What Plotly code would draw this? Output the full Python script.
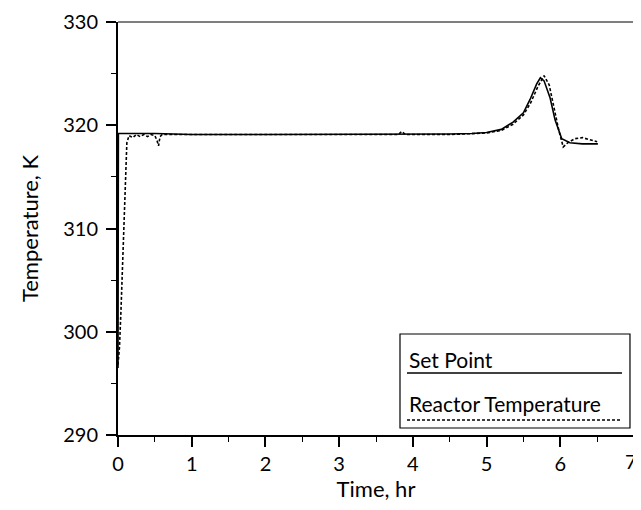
import plotly.graph_objects as go

# Set point (solid)
sp_t = [0, 0.005, 0.5, 1, 2, 3, 4, 4.5, 4.8, 5.0, 5.2, 5.36, 5.5, 5.59, 5.68, 5.73, 5.78,
        5.86, 5.93, 6.02, 6.13, 6.3, 6.51]
sp_T = [296.5, 319.2, 319.2, 319.1, 319.1, 319.1, 319.1, 319.15, 319.2, 319.3, 319.6, 320.3,
        321.2, 322.5, 324.0, 324.6, 324.3, 322.7, 320.5, 318.7, 318.3, 318.2, 318.2]

# Reactor temperature (dashed)
rt_t = [0, 0.02, 0.04, 0.06, 0.08, 0.1, 0.12, 0.15, 0.2, 0.25, 0.3, 0.35, 0.4, 0.45, 0.5,
        0.53, 0.55, 0.57, 0.6, 0.8, 1, 2, 3, 3.8, 3.85, 3.9, 4.5, 4.8, 5.0, 5.2, 5.36, 5.5,
        5.6, 5.7, 5.78, 5.85, 5.92, 5.98, 6.04, 6.1, 6.2, 6.3, 6.4, 6.5]
rt_T = [296.8, 298.5, 302, 306, 311, 315.8, 318.3, 319.0, 318.8, 319.1, 318.9, 319.1, 318.9,
        319.1, 319.0, 318.5, 318.0, 318.9, 319.1, 319.1, 319.1, 319.1, 319.1, 319.1, 319.4,
        319.1, 319.1, 319.15, 319.25, 319.5, 320.1, 321.0, 322.2, 323.8, 324.8, 323.9, 321.5,
        319.5, 317.9, 318.3, 318.7, 318.8, 318.6, 318.4]

x_ticks = [0, 1, 2, 3, 4, 5, 6, 7]
x_ticktext = ["0", "1", "2", "3", "4", "5", "6", ""]   # "7" drawn as annotation at the edge
legend_labels = ["Set Point", "Reactor Temperature"]
x_label = "Time, hr"
y_label = "Temperature, K"

FONT = "Lato"

fig = go.Figure()
fig.add_trace(go.Scatter(x=sp_t, y=sp_T, mode="lines", name=legend_labels[0],
                         line=dict(color="black", width=1.6), showlegend=False))
fig.add_trace(go.Scatter(x=rt_t, y=rt_T, mode="lines", name=legend_labels[1],
                         line=dict(color="black", width=1.6, dash="3px,2px"), showlegend=False))

axis_common = dict(showgrid=False, zeroline=False, showline=True, linecolor="black",
                   linewidth=2, ticks="outside", ticklen=10, tickwidth=1.5, tickcolor="black",
                   automargin=False,
                   tickfont=dict(family=FONT, size=20, color="black"))

fig.update_xaxes(range=[0, 7.0001], tickmode="array", tickvals=x_ticks, ticktext=x_ticktext,
                 minor=dict(dtick=0.5, tick0=0, ticks="outside", ticklen=5, tickwidth=1.2,
                            tickcolor="black"),
                 title=dict(text=x_label, font=dict(family=FONT, size=22, color="black"), standoff=6),
                 **axis_common)
fig.update_yaxes(range=[290, 330], dtick=10, tick0=290, ticklabelstandoff=4,
                 minor=dict(dtick=5, ticks="outside", ticklen=5, tickwidth=1.2, tickcolor="black"),
                 title=dict(text=y_label, font=dict(family=FONT, size=22, color="black"), standoff=18),
                 **axis_common)

fig.add_annotation(xref="x", yref="paper", x=x_ticks[-1], y=0, yanchor="top", xanchor="right",
                   xshift=5, yshift=-12, text=str(x_ticks[-1]), showarrow=False,
                   font=dict(family=FONT, size=20, color="black"))

# top and right frame lines (thinner)
fig.add_shape(type="line", xref="paper", yref="paper", x0=0, x1=1, y0=1, y1=1,
              line=dict(color="black", width=1.2))
fig.add_shape(type="line", xref="paper", yref="paper", x0=1, x1=1, y0=0, y1=1,
              line=dict(color="black", width=1.2))

# manual legend box
fig.add_shape(type="rect", xref="paper", yref="paper", x0=0.5465, x1=0.9922, y0=0.0169, y1=0.2446,
              line=dict(color="black", width=1.2), fillcolor="white", layer="above")
fig.add_shape(type="line", xref="paper", yref="paper", x0=0.5601, x1=0.9767, y0=0.1501, y1=0.1501,
              line=dict(color="black", width=1.6))
fig.add_shape(type="line", xref="paper", yref="paper", x0=0.5601, x1=0.9767, y0=0.0363, y1=0.0363,
              line=dict(color="black", width=1.6, dash="3px,2px"))
fig.add_annotation(xref="paper", yref="paper", x=0.5601, y=0.1816, xanchor="left", yanchor="middle",
                   text=legend_labels[0], showarrow=False,
                   font=dict(family=FONT, size=21, color="black"))
fig.add_annotation(xref="paper", yref="paper", x=0.5601, y=0.0751, xanchor="left", yanchor="middle",
                   text=legend_labels[1], showarrow=False,
                   font=dict(family=FONT, size=21, color="black"))

# page body has an 8px default margin, so the figure is sized/offset to compensate
fig.update_layout(width=633, height=494, margin=dict(l=110, r=7, t=14, b=67),
                  paper_bgcolor="white", plot_bgcolor="white",
                  font=dict(family=FONT, color="black"))

fig.write_html("out.html")
